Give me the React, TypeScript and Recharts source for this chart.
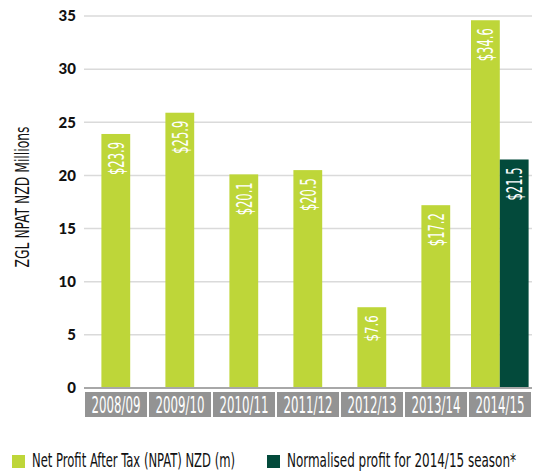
import { Bar, BarChart, CartesianGrid, XAxis, YAxis } from 'recharts'

const seasons = ['2008/09', '2009/10', '2010/11', '2011/12', '2012/13', '2013/14', '2014/15']
const npat = [23.9, 25.9, 20.1, 20.5, 7.6, 17.2, 34.6]
const normalised: Array<number | null> = [null, null, null, null, null, null, 21.5]
const yTicks = [0, 5, 10, 15, 20, 25, 30, 35]
const seriesNames = ['Net Profit After Tax (NPAT) NZD (m)', 'Normalised profit for 2014/15 season*']
const yTitle = 'ZGL NPAT NZD Millions'

const LIME = '#bed639'
const DARK = '#034a3b'
const BOX = '#939393'
const CONDENSED = "'DejaVu Sans Condensed', 'DejaVu Sans', sans-serif"

const W = 534
const H = 474
const BAND = (W - 84 - 2) / seasons.length

const data = seasons.map((season, i) => ({
  season,
  npat: npat[i],
  normalised: normalised[i],
}))

// tall narrow text: small font stretched vertically, width pinned with textLength
function Tall({ x, y, angle = 0, size, stretch, length, anchor = 'start', fill = '#111', dy, children }: any) {
  return (
    <g transform={`translate(${x} ${y}) rotate(${angle}) scale(1 ${stretch})`}>
      <text
        x={0}
        y={0}
        dy={dy}
        textAnchor={anchor}
        fill={fill}
        fontFamily={CONDENSED}
        fontSize={size}
        textLength={length}
        lengthAdjust="spacingAndGlyphs"
      >
        {children}
      </text>
    </g>
  )
}

function BarLabel({ x, y, width, value }: any) {
  const text = `$${value.toFixed(1)}`
  const len = text.length * 6.6
  return (
    <Tall x={x + width / 2} y={y + 8} angle={-90} size={len / 2.6} stretch={1.7} length={len} anchor="end" fill="#fff" dy="0.36em">
      {text}
    </Tall>
  )
}

// lime bar sits in the middle of its band unless the normalised bar is next to it
function NpatShape(props: any) {
  const { x, y, width, height, payload } = props
  const shift = payload.normalised == null ? width / 2 : 0
  return (
    <g>
      <rect x={x + shift} y={y} width={width} height={height} fill={LIME} />
      <BarLabel x={x + shift} y={y} width={width} value={payload.npat} />
    </g>
  )
}

function NormalisedShape(props: any) {
  const { x, y, width, height, payload } = props
  if (payload.normalised == null) return null
  return (
    <g>
      <rect x={x} y={y} width={width} height={height} fill={DARK} />
      <BarLabel x={x} y={y} width={width} value={payload.normalised} />
    </g>
  )
}

function SeasonTick({ x, y, payload }: any) {
  const text = payload.value as string
  return (
    <g>
      <rect x={x - BAND / 2 + 1} y={y} width={BAND - 2} height={25} fill={BOX} />
      <Tall x={x} y={y + 21} size={13} stretch={1.75} length={49} anchor="middle" fill="#fff">
        {text}
      </Tall>
    </g>
  )
}

function YTitle({ viewBox }: any) {
  const cy = viewBox.y + viewBox.height / 2 - 5
  return (
    <Tall x={22} y={cy} angle={-90} size={13.5} stretch={1.45} length={141} anchor="middle" dy="0.36em">
      {yTitle}
    </Tall>
  )
}

export default function App() {
  const legendColors = [LIME, DARK]
  const legendX = [12, 267]
  const legendLen = [203, 229]
  return (
    <div style={{ position: 'absolute', left: 0, top: 0, width: W, height: H, background: '#fff' }}>
      <BarChart
        width={W}
        height={H}
        data={data}
        margin={{ top: 16, right: 2, left: 0, bottom: 56 }}
        barGap={0}
        barSize={32}
      >
        <CartesianGrid vertical={false} stroke="#dadada" strokeWidth={1.5} />
        <XAxis
          dataKey="season"
          height={30}
          tickLine={false}
          tickSize={0}
          tickMargin={4}
          axisLine={{ stroke: '#a8a8a8', strokeWidth: 2 }}
          tick={<SeasonTick />}
          interval={0}
        />
        <YAxis
          width={84}
          domain={[0, 35]}
          ticks={yTicks}
          axisLine={false}
          tickLine={false}
          tickSize={0}
          tickMargin={8}
          tick={{ fill: '#111', fontFamily: 'Lato, sans-serif', fontWeight: 900, fontSize: 15 }}
          label={<YTitle />}
        />
        <Bar dataKey="npat" name={seriesNames[0]} fill={LIME} shape={<NpatShape />} isAnimationActive={false} />
        <Bar dataKey="normalised" name={seriesNames[1]} fill={DARK} shape={<NormalisedShape />} isAnimationActive={false} />
      </BarChart>
      <svg width={W} height={40} style={{ position: 'absolute', left: 0, top: 434 }}>
        {seriesNames.map((name, i) => (
          <g key={name}>
            <rect x={legendX[i]} y={21} width={13} height={13} fill={legendColors[i]} />
            <Tall x={legendX[i] + 20} y={33} size={11.5} stretch={1.75} length={legendLen[i]}>
              {name}
            </Tall>
          </g>
        ))}
      </svg>
    </div>
  )
}
